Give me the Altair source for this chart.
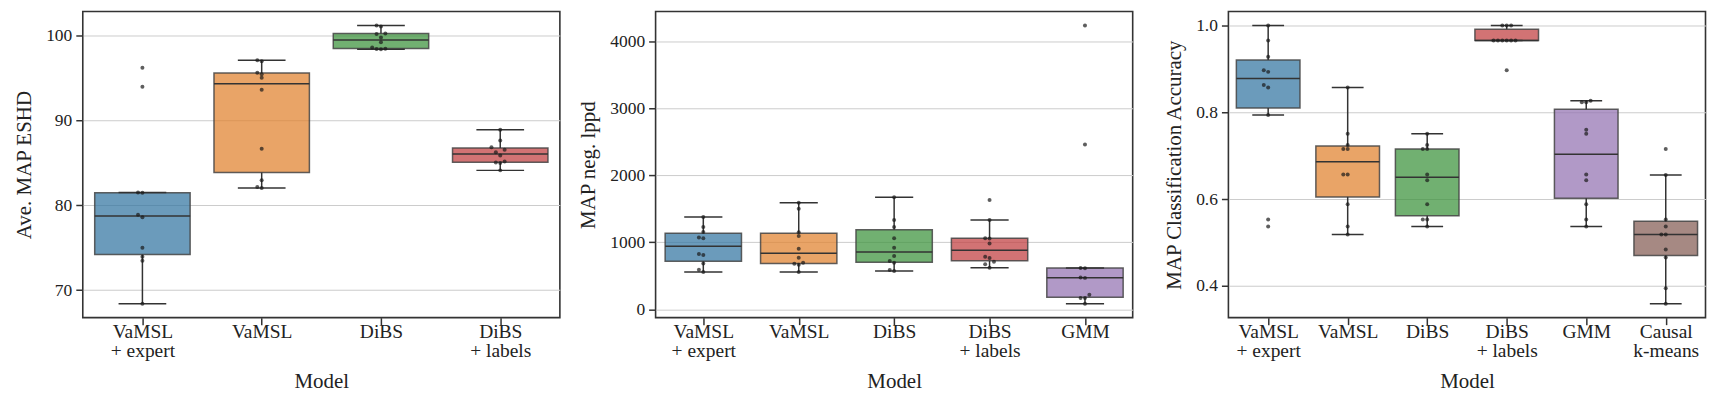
import json
import altair as alt
import pandas as pd

FONT = "Liberation Serif"

# ---------------- data ----------------
eshd_models = ["VaMSL\n+ expert", "VaMSL", "DiBS", "DiBS\n+ labels"]
eshd_vamsl_expert = [96.22, 93.99, 81.50, 81.47, 78.89, 78.58, 74.99, 73.93, 73.47, 68.39]
eshd_vamsl = [97.11, 97.00, 95.63, 95.47, 95.04, 93.64, 86.66, 82.95, 82.17, 82.05]
eshd_dibs = [101.21, 101.09, 100.27, 100.20, 99.80, 99.22, 98.62, 98.46, 98.43, 98.40]
eshd_dibs_labels = [88.92, 87.63, 86.85, 86.54, 86.26, 85.87, 85.17, 85.05, 84.98, 84.12]

lppd_models = ["VaMSL\n+ expert", "VaMSL", "DiBS", "DiBS\n+ labels", "GMM"]
lppd_vamsl_expert = [1378, 1230, 1156, 1072, 1062, 825, 810, 686, 593, 558]
lppd_vamsl = [1590, 1501, 1151, 1096, 904, 770, 696, 681, 667, 558]
lppd_dibs = [1674, 1333, 1230, 1062, 918, 795, 721, 696, 588, 573]
lppd_dibs_labels = [1634, 1333, 1062, 1057, 983, 785, 765, 711, 672, 622]
lppd_gmm = [4237, 2462, 618, 615, 475, 470, 218, 168, 168, 84]

acc_models = ["VaMSL\n+ expert", "VaMSL", "DiBS", "DiBS\n+ labels", "GMM", "Causal\nk-means"]
acc_vamsl_expert = [1.0, 0.9656, 0.9282, 0.8969, 0.8931, 0.8626, 0.8572, 0.7939, 0.5527, 0.5366]
acc_vamsl = [0.8572, 0.7504, 0.7244, 0.7153, 0.7153, 0.6565, 0.6565, 0.5878, 0.5366, 0.5183]
acc_dibs = [0.7504, 0.7244, 0.7153, 0.7153, 0.6565, 0.6435, 0.5878, 0.5527, 0.5527, 0.5366]
acc_dibs_labels = [1.0, 1.0, 1.0, 0.9656, 0.9656, 0.9656, 0.9656, 0.9656, 0.9656, 0.8969]
acc_gmm = [0.8267, 0.8229, 0.8229, 0.7595, 0.7504, 0.6565, 0.6435, 0.5878, 0.5527, 0.5366]
acc_kmeans = [0.7153, 0.6557, 0.5527, 0.5366, 0.5183, 0.5183, 0.4839, 0.4656, 0.3946, 0.3588]

PALETTE = ["#3274a1", "#e1812c", "#3a923a", "#c03d3e", "#9372b2", "#845b53"]

W = 478.5
H = 307
EDGE = "#333333"
TEXT = "#222222"


def panel(models, series, ytitle, ydomain, yticks, yfmt, thr):
    rows = []
    for i, vals in enumerate(series):
        for v in vals:
            rows.append({"idx": i, "value": v})
    df = pd.DataFrame(rows)
    n = len(models)
    sp = 4.4 / (W / n)  # swarm spacing in category units

    xscale = alt.Scale(domain=[-0.5, n - 0.5], nice=False, zero=False)
    yscale = alt.Scale(domain=ydomain, nice=False, zero=False)
    label_expr = json.dumps([m.split("\n") for m in models]) + "[datum.value]"
    xaxis = alt.Axis(
        values=list(range(n)), labelExpr=label_expr, title="Model", grid=False,
        domain=False, tickSize=7, tickWidth=1.5, tickColor=EDGE,
        labelPadding=-2, labelLineHeight=19, labelFontSize=19.5, titlePadding=11,
    )
    yaxis = alt.Axis(
        values=yticks, format=yfmt, title=ytitle, grid=True, gridColor="#cccccc",
        gridWidth=1, domain=False, tickSize=7, tickWidth=1.5, tickColor=EDGE,
        labelPadding=4, labelFontSize=17.5, titlePadding=11,
    )
    color = alt.Color("idx:N", scale=alt.Scale(domain=list(range(6)), range=PALETTE), legend=None)

    def X(f):
        return alt.X(f, scale=xscale, axis=xaxis)

    def Y(f):
        return alt.Y(f, scale=yscale, axis=yaxis)

    base = alt.Chart(df)
    st = (
        base.transform_joinaggregate(q1="q1(value)", q3="q3(value)", groupby=["idx"])
        .transform_calculate(
            inl="(datum.value >= datum.q1 - 1.5*(datum.q3-datum.q1) && datum.value <= datum.q3 + 1.5*(datum.q3-datum.q1)) ? datum.value : null"
        )
        .transform_aggregate(
            q1="q1(value)", q3="q3(value)", med="median(value)", lo="min(inl)", hi="max(inl)", groupby=["idx"]
        )
        .transform_calculate(
            bl="datum.idx - 0.4", br="datum.idx + 0.4", cl="datum.idx - 0.2", cr="datum.idx + 0.2"
        )
    )

    box = st.mark_rect(fillOpacity=0.72, stroke="#444444", strokeOpacity=0.85, strokeWidth=1.5).encode(
        x=X("bl:Q"), x2="br:Q", y=Y("q1:Q"), y2="q3:Q", fill=color,
    )
    med = st.mark_rule(color=EDGE, strokeWidth=1.5).encode(x=X("bl:Q"), x2="br:Q", y=Y("med:Q"))
    wlo = st.mark_rule(color=EDGE, strokeWidth=1.5).encode(x=X("idx:Q"), y=Y("lo:Q"), y2="q1:Q")
    whi = st.mark_rule(color=EDGE, strokeWidth=1.5).encode(x=X("idx:Q"), y=Y("q3:Q"), y2="hi:Q")
    clo = st.mark_rule(color=EDGE, strokeWidth=1.5).encode(x=X("cl:Q"), x2="cr:Q", y=Y("lo:Q"))
    chi = st.mark_rule(color=EDGE, strokeWidth=1.5).encode(x=X("cl:Q"), x2="cr:Q", y=Y("hi:Q"))
    pts = (
        base.transform_window(prev="lag(value)", sort=[alt.SortField("value", order="ascending")], groupby=["idx"])
        .transform_calculate(brk=f"(datum.prev == null || datum.value - datum.prev > {thr}) ? 1 : 0")
        .transform_window(
            cl="sum(brk)", sort=[alt.SortField("value", order="ascending")], groupby=["idx"], frame=[None, 0]
        )
        .transform_window(rk="row_number()", sort=[alt.SortField("value", order="ascending")], groupby=["idx", "cl"])
        .transform_calculate(k="datum.rk - 1")
        .transform_calculate(off="datum.k == 0 ? 0 : (datum.k % 2 == 1 ? -(datum.k + 1) / 2 : datum.k / 2)")
        .transform_calculate(xp=f"datum.idx + datum.off * {sp}")
        .mark_circle(size=16, color="#1a1a1a", opacity=0.7)
        .encode(x=X("xp:Q"), y=Y("value:Q"))
    )
    return alt.layer(box, wlo, whi, clo, chi, med, pts).properties(width=W, height=H)


p1 = panel(
    eshd_models, [eshd_vamsl_expert, eshd_vamsl, eshd_dibs, eshd_dibs_labels],
    "Ave. MAP ESHD", [66.75, 102.85], [70, 80, 90, 100], "d", 0.41,
)
p2 = panel(
    lppd_models, [lppd_vamsl_expert, lppd_vamsl, lppd_dibs, lppd_dibs_labels, lppd_gmm],
    "MAP neg. lppd", [-123.7, 4444.7], [0, 1000, 2000, 3000, 4000], "d", 52,
)
p3 = panel(
    acc_models, [acc_vamsl_expert, acc_vamsl, acc_dibs, acc_dibs_labels, acc_gmm, acc_kmeans],
    "MAP Classification Accuracy", [0.3267, 1.0321], [0.4, 0.6, 0.8, 1.0], ".1f", 0.008,
)

chart = (
    alt.hconcat(p1, p2, p3, spacing=95.5, bounds="flush")
    .properties(padding={"left": 4, "top": 2, "right": 0, "bottom": 0})
    .configure_view(stroke=EDGE, strokeWidth=1.6)
    .configure_axis(
        labelFont=FONT, titleFont=FONT, titleFontSize=21,
        labelColor=TEXT, titleColor=TEXT, titleFontWeight="normal",
    )
)

chart.save("out.html", embed_options={"renderer": "svg", "actions": False})
